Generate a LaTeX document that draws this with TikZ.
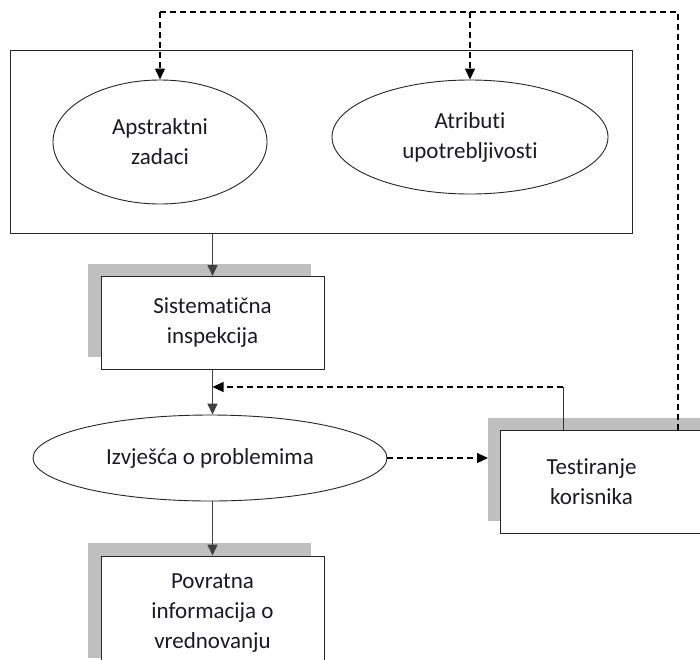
\documentclass[tikz,border=0pt]{standalone}
\usepackage{fontspec}
\setmainfont{Carlito}[Ligatures={NoCommon}]
\usetikzlibrary{shapes.geometric,shadows,arrows.meta}
\definecolor{shadowgray}{HTML}{BFBFBF}
\definecolor{linegray}{HTML}{404040}
\definecolor{txtcol}{HTML}{1A1A24}
\begin{document}
\begin{tikzpicture}[x=1pt,y=-1pt,
  font=\fontsize{23}{30}\selectfont, text=txtcol,
  plainbox/.style={draw=black!85, line width=1pt, inner sep=0pt},
  oval/.style={ellipse, draw=black!85, line width=0.9pt, inner sep=0pt, align=center, fill=white},
  shbox/.style={draw=black!85, line width=1pt, fill=white, inner sep=0pt, align=center,
     general shadow={fill=shadowgray, shadow xshift=-13pt, shadow yshift=13pt}},
  conn/.style={draw=linegray, line width=1.6pt, -{Triangle[length=11pt,width=10pt]}},
  dsh/.style={draw=black, line width=1.2pt, dash pattern=on 6pt off 4pt},
  dsharrow/.style={dsh, -{Triangle[length=11pt,width=10pt]}},
  thinline/.style={draw=black!80, line width=1pt}]
\useasboundingbox (0,0) rectangle (700,659);
\clip (0,0) rectangle (700,659);

\node[plainbox, minimum width=622pt, minimum height=183pt] (top) at (321,141.5) {};
\node[oval, minimum width=214pt, minimum height=124pt] (abs) at (160,142) {Apstraktni\\zadaci};
\node[oval, minimum width=276pt, minimum height=114pt] (atr) at (470,137) {Atributi\\upotrebljivosti};
\node[shbox, minimum width=223pt, minimum height=93pt] (sist) at (212.5,323) {Sistematična\\inspekcija};
\node[oval, minimum width=354pt, minimum height=86pt] (izv) at (210,458) {Izvješća o problemima};
\node[shbox, minimum width=223pt, minimum height=115pt] (povr) at (212.5,613.5) {Povratna\\informacija o\\vrednovanju};
\node[shbox, minimum width=230pt, minimum height=103pt, anchor=north west,
  label={[name=testlbl, align=center, xshift=-24pt]center:Testiranje\\korisnika}] (test) at (500,430) {};

% solid flow
\draw[conn] (top.south -| sist.north) -- (sist.north);
\draw[conn] (sist.south) -- (sist.south |- izv.north);
\draw[conn] (izv.south -| povr.north) -- (povr.north);

% dashed to testing
\draw[dsharrow, shorten >=12pt] (izv.east) -- (izv.east -| test.west);

% feedback from testing
\coordinate (fbc) at (563,387);
\draw[thinline] (test.north -| fbc) -- (fbc);
\draw[dsharrow] (fbc) -- (fbc -| sist.south);

% top dashed loop
\coordinate (tr) at (678,12);
\draw[dsh] (test.north -| tr) -- (tr) -- (abs.north |- tr);
\draw[dsharrow] (abs.north |- tr) -- (abs.north);
\draw[dsharrow] (atr.north |- tr) -- (atr.north);
\end{tikzpicture}
\end{document}
